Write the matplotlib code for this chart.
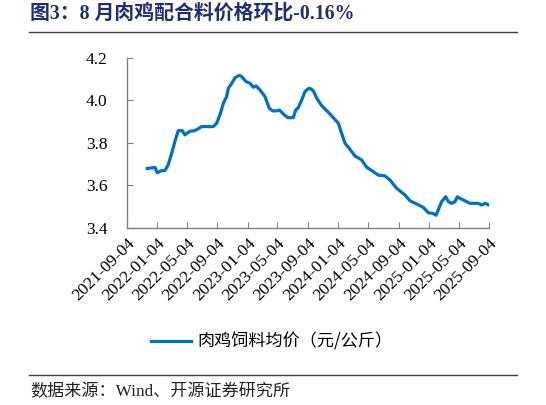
import matplotlib
matplotlib.use('Agg')
import matplotlib.pyplot as plt
import pandas as pd

plt.rcParams['font.family'] = ['Liberation Serif', 'Noto Sans CJK SC']

title = '图3：8 月肉鸡配合料价格环比-0.16%'
series_name = '肉鸡饲料均价（元/公斤）'
source = '数据来源：Wind、开源证券研究所'

dates = ['2021-11-25', '2021-12-26', '2022-01-04', '2022-01-22', '2022-02-04',
         '2022-02-18', '2022-03-03', '2022-03-17', '2022-03-30', '2022-04-15',
         '2022-04-26', '2022-05-16', '2022-06-05', '2022-06-19', '2022-07-02',
         '2022-07-24', '2022-08-18', '2022-09-01', '2022-09-14', '2022-09-28',
         '2022-10-11', '2022-10-18', '2022-11-01', '2022-11-14', '2022-12-01',
         '2022-12-11', '2022-12-28', '2023-01-13', '2023-01-27', '2023-02-07',
         '2023-02-23', '2023-03-15', '2023-04-01', '2023-04-15', '2023-05-01',
         '2023-05-12', '2023-05-28', '2023-06-15', '2023-07-07', '2023-07-17',
         '2023-07-27', '2023-08-10', '2023-08-23', '2023-09-05', '2023-09-13',
         '2023-09-26', '2023-10-10', '2023-10-30', '2023-11-25', '2023-12-02',
         '2024-01-05', '2024-01-18', '2024-02-01', '2024-02-21', '2024-03-12',
         '2024-04-08', '2024-04-28', '2024-05-19', '2024-06-14', '2024-07-11',
         '2024-07-31', '2024-08-27', '2024-09-30', '2024-10-20', '2024-11-16',
         '2024-12-13', '2025-01-02', '2025-01-20', '2025-02-02', '2025-02-11',
         '2025-02-25', '2025-03-13', '2025-03-24', '2025-04-06', '2025-04-20',
         '2025-04-29', '2025-05-17', '2025-06-06', '2025-06-19', '2025-07-23',
         '2025-08-06', '2025-08-19', '2025-09-04']
prices = [3.680, 3.685, 3.660, 3.670, 3.670,
          3.700, 3.750, 3.810, 3.858, 3.858,
          3.838, 3.855, 3.858, 3.867, 3.877,
          3.877, 3.877, 3.893, 3.932, 3.987,
          4.018, 4.057, 4.081, 4.107, 4.118,
          4.112, 4.089, 4.081, 4.062, 4.068,
          4.049, 4.018, 3.963, 3.951, 3.951,
          3.955, 3.936, 3.919, 3.919, 3.955,
          3.966, 4.002, 4.041, 4.055, 4.057,
          4.045, 4.010, 3.975, 3.945, 3.936,
          3.893, 3.846, 3.799, 3.770, 3.739,
          3.720, 3.686, 3.670, 3.649, 3.645,
          3.626, 3.587, 3.555, 3.528, 3.513,
          3.497, 3.472, 3.469, 3.460, 3.485,
          3.524, 3.547, 3.524, 3.516, 3.524,
          3.547, 3.535, 3.524, 3.516, 3.516,
          3.508, 3.516, 3.508]
tick_dates = ['2021-09-04', '2022-01-04', '2022-05-04', '2022-09-04', '2023-01-04',
              '2023-05-04', '2023-09-04', '2024-01-04', '2024-05-04', '2024-09-04',
              '2025-01-04', '2025-05-04', '2025-09-04']
yticks = [3.4, 3.6, 3.8, 4.0, 4.2]

x = pd.to_datetime(dates)
xt = pd.to_datetime(tick_dates)

fig = plt.figure(figsize=(5.46, 4.05), dpi=100)
ax = fig.add_axes([0.2326, 0.437, 0.663, 0.42])

line, = ax.plot(x, prices, color='#0070C0', lw=2.3, label=series_name)

ax.set_xlim(xt[0], xt[-1])
ax.set_ylim(3.4, 4.2)
ax.set_yticks(yticks)
ax.set_yticklabels(['%.1f' % v for v in yticks])
ax.set_xticks(xt)
ax.set_xticklabels(tick_dates, rotation=45, ha='right', rotation_mode='anchor')

for s in ['top', 'right']:
    ax.spines[s].set_visible(False)
for s in ['left', 'bottom']:
    ax.spines[s].set_color('#808080')
    ax.spines[s].set_linewidth(1)
ax.tick_params(axis='y', direction='in', length=4, color='#808080', labelsize=12.5, pad=14)
ax.tick_params(axis='x', direction='in', length=4, color='#808080', labelsize=12.5, pad=5)

fig.legend(handles=[line], labels=[series_name], loc='center', bbox_to_anchor=(272 / 546, 1 - 341.5 / 405),
           frameon=False, prop={'family': ['Noto Sans CJK SC'], 'size': 12.3},
           handlelength=2.3, handletextpad=0.4)

fig.text(30 / 546, 1 - 14 / 405, title, fontsize=14.3, fontweight='bold', color='#1F2E6E',
         va='center', ha='left')
fig.add_artist(plt.Line2D([29 / 546, 517 / 546], [1 - 31.5 / 405] * 2, color='#404040', lw=1))
fig.add_artist(plt.Line2D([29 / 546, 517 / 546], [1 - 375 / 405] * 2, color='#404040', lw=1))
fig.text(30 / 546, 1 - 392 / 405, source, fontsize=12.3, color='#222222', va='center', ha='left')

fig.savefig('out.png', dpi=100)
